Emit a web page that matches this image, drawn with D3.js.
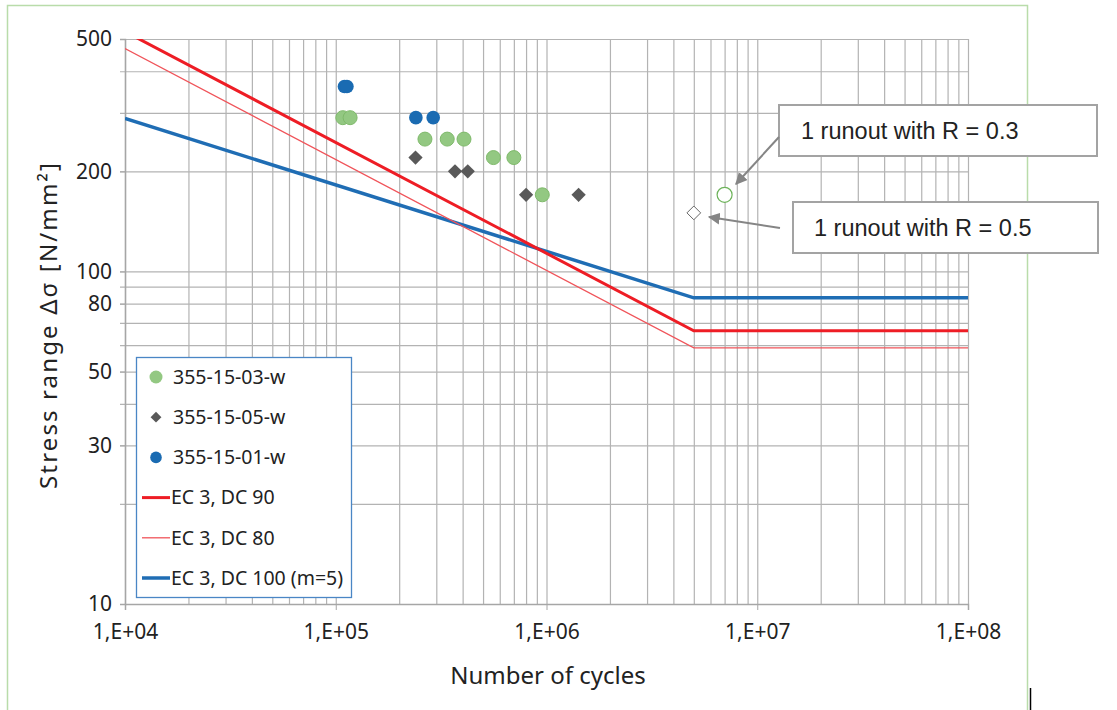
<html lang='en'>
    <head>
        <meta charset='utf-8'>
        <title>S-N curve</title>
        <script src="https://d3js.org/d3.v7.min.js"></script>
        <style>
            body { margin: 0; background: #fff; }
            text { font-family: 'Noto Sans', sans-serif; fill: #222; }
            .note text { font-family: 'Liberation Sans', Arial, sans-serif; }
        </style>
    </head>
    <body>
        <script>

            var width = 1117;
            var height = 710;

            // test results (cycles, stress range)
            var s03N = [1.08e5, 1.17e5, 2.65e5, 3.38e5, 4.06e5, 5.6e5, 7.0e5, 9.55e5];
            var s03S = [290, 290, 250, 250, 250, 220, 220, 170];
            var s05N = [2.39e5, 3.68e5, 4.23e5, 8.0e5, 1.42e6];
            var s05S = [220, 200, 200, 170, 170];
            var s01N = [1.10e5, 1.13e5, 2.4e5, 2.9e5];
            var s01S = [360, 360, 290, 290];

            // runouts
            var runoutCircleN = [7.0e6], runoutCircleS = [170];
            var runoutDiamondN = [5.0e6], runoutDiamondS = [150];

            // detail categories (knee at 5e6 cycles)
            var curveN = [1e4, 5e6, 1e8];
            var dc90S = [526.3, 66.3, 66.3];
            var dc80S = [467.8, 58.9, 58.9];
            var dc100S = [288.5, 83.3, 83.3];

            var xTicks = [1e4, 1e5, 1e6, 1e7, 1e8];
            var xTickLabels = ['1,E+04', '1,E+05', '1,E+06', '1,E+07', '1,E+08'];
            var yTicks = [10, 30, 50, 80, 100, 200, 500];
            var yGrid = [10, 20, 30, 40, 50, 60, 70, 80, 90, 100, 200, 300, 400, 500];
            var legendNames = ['355-15-03-w', '355-15-05-w', '355-15-01-w', 'EC 3, DC 90', 'EC 3, DC 80', 'EC 3, DC 100 (m=5)'];

            var x = d3.scaleLog().domain([1e4, 1e8]).range([125, 968]);
            var y = d3.scaleLog().domain([10, 500]).range([604, 39]);

            // minor x grid: 1..9 per decade
            var xGrid = [];
            [1e4, 1e5, 1e6, 1e7].forEach(function(d) {
                for (var k = 1; k < 10; k++) xGrid.push(d * k);
            });
            xGrid.push(1e8);

            var svg = d3.select('body')
                        .append('svg')
                        .attr('width', width)
                        .attr('height', height);

            // outer frame
            svg.append('rect')
               .attr('x', 7.5).attr('y', 5.5)
               .attr('width', 1020).attr('height', 720)
               .attr('fill', '#fff')
               .attr('stroke', '#b9dcaa').attr('stroke-width', 1.5);
            svg.append('line')
               .attr('x1', 1030.5).attr('x2', 1030.5)
               .attr('y1', 688).attr('y2', 710)
               .attr('stroke', '#000').attr('stroke-width', 1.5);

            // grid
            svg.append('g')
               .attr('transform', 'translate(0,604)')
               .call(d3.axisBottom(x).tickValues(xGrid).tickSize(-565).tickFormat(''))
               .call(function(g) {
                   g.select('.domain').remove();
                   g.selectAll('line').attr('stroke', '#b3b3b3').attr('stroke-width', 1.2);
               });
            svg.append('g')
               .attr('transform', 'translate(968,0)')
               .call(d3.axisLeft(y).tickValues(yGrid).tickSize(848).tickFormat(''))
               .call(function(g) {
                   g.select('.domain').remove();
                   g.selectAll('line').attr('stroke', '#b3b3b3').attr('stroke-width', 1.2);
               });

            // axes
            var xAxis = svg.append('g')
               .attr('transform', 'translate(0,604)')
               .call(d3.axisBottom(x).tickValues(xTicks).tickSize(6).tickPadding(14)
                     .tickFormat(function(d, i) { return xTickLabels[i]; }));
            xAxis.select('.domain').attr('stroke', '#a6a6a6').attr('stroke-width', 1.5);
            xAxis.selectAll('line').attr('stroke', '#a6a6a6');
            xAxis.selectAll('text').style('font-size', '21px').attr('fill', '#222');

            var yAxis = svg.append('g')
               .attr('transform', 'translate(125,0)')
               .call(d3.axisLeft(y).tickValues(yTicks).tickSize(5).tickPadding(8)
                     .tickFormat(d3.format('d')));
            yAxis.select('.domain').attr('stroke', '#a6a6a6').attr('stroke-width', 1.5);
            yAxis.selectAll('line').attr('stroke', '#a6a6a6');
            yAxis.selectAll('text').style('font-size', '21px').attr('fill', '#222');

            svg.append('text')
               .attr('x', 548).attr('y', 684)
               .attr('text-anchor', 'middle')
               .style('font-size', '24px')
               .text('Number of cycles');
            svg.append('text')
               .attr('transform', 'translate(57,326) rotate(-90)')
               .attr('text-anchor', 'middle')
               .attr('textLength', 326)
               .attr('lengthAdjust', 'spacing')
               .style('font-size', '24px')
               .text('Stress range \u0394\u03c3 [N/mm\u00b2]');

            // design curves
            svg.append('clipPath').attr('id', 'plot')
               .append('rect').attr('x', 125).attr('y', 39).attr('width', 843).attr('height', 565);
            var line = d3.line()
                         .x(function(d) { return x(d[0]); })
                         .y(function(d) { return y(d[1]); });
            var curves = [
                {s: dc100S, color: '#1f6db4', w: 3.5},
                {s: dc80S, color: '#f0545a', w: 1.3},
                {s: dc90S, color: '#ee1d25', w: 3}
            ];
            svg.append('g').attr('clip-path', 'url(#plot)')
               .selectAll('path')
               .data(curves)
               .enter()
               .append('path')
               .attr('d', function(c) { return line(d3.zip(curveN, c.s)); })
               .attr('fill', 'none')
               .attr('stroke', function(c) { return c.color; })
               .attr('stroke-width', function(c) { return c.w; });

            var diamond = d3.symbol().type(d3.symbolDiamond2);

            // test points
            svg.append('g').selectAll('circle')
               .data(d3.zip(s03N, s03S))
               .enter().append('circle')
               .attr('cx', function(d) { return x(d[0]); })
               .attr('cy', function(d) { return y(d[1]); })
               .attr('r', 7)
               .attr('fill', '#93c882').attr('stroke', '#7fba6b').attr('stroke-width', 1);
            svg.append('g').selectAll('path')
               .data(d3.zip(s05N, s05S))
               .enter().append('path')
               .attr('d', diamond.size(130))
               .attr('transform', function(d) { return 'translate(' + x(d[0]) + ',' + y(d[1]) + ')'; })
               .attr('fill', '#595959');
            svg.append('g').selectAll('circle')
               .data(d3.zip(s01N, s01S))
               .enter().append('circle')
               .attr('cx', function(d) { return x(d[0]); })
               .attr('cy', function(d) { return y(d[1]); })
               .attr('r', 6.8)
               .attr('fill', '#1a6bb2');

            // runouts
            svg.append('g').selectAll('circle')
               .data(d3.zip(runoutCircleN, runoutCircleS))
               .enter().append('circle')
               .attr('cx', function(d) { return x(d[0]); })
               .attr('cy', function(d) { return y(d[1]); })
               .attr('r', 7.5)
               .attr('fill', '#fff').attr('stroke', '#6db35a').attr('stroke-width', 1.2);
            svg.append('g').selectAll('path')
               .data(d3.zip(runoutDiamondN, runoutDiamondS))
               .enter().append('path')
               .attr('d', diamond.size(120))
               .attr('transform', function(d) { return 'translate(' + x(d[0]) + ',' + y(d[1]) + ')'; })
               .attr('fill', '#fff').attr('stroke', '#666').attr('stroke-width', 1);

            // legend
            var legend = svg.append('g');
            legend.append('rect')
                  .attr('x', 136.5).attr('y', 357.5)
                  .attr('width', 215).attr('height', 240)
                  .attr('fill', '#fff').attr('stroke', '#4a86c5').attr('stroke-width', 1.3);
            var rowY = d3.scalePoint().domain(legendNames).range([377, 578]);
            legendNames.forEach(function(name, i) {
                var yy = rowY(name);
                if (i == 0) legend.append('circle').attr('cx', 156).attr('cy', yy).attr('r', 6.5).attr('fill', '#93c882');
                if (i == 1) legend.append('path').attr('d', diamond.size(75)).attr('transform', 'translate(156,' + yy + ')').attr('fill', '#595959');
                if (i == 2) legend.append('circle').attr('cx', 156).attr('cy', yy).attr('r', 5.8).attr('fill', '#1a6bb2');
                if (i >= 3) {
                    var c = curves[[2, 1, 0][i - 3]];
                    legend.append('line').attr('x1', 142).attr('x2', 170).attr('y1', yy).attr('y2', yy)
                          .attr('stroke', c.color).attr('stroke-width', c.w);
                }
                legend.append('text')
                      .attr('x', i >= 3 ? 171 : 173).attr('y', yy)
                      .attr('dy', '0.35em')
                      .style('font-size', '19.5px')
                      .text(name);
            });

            // annotations
            var notes = [
                {text: '1 runout with R = 0.3', bx: 779, by: 105, bw: 318, tx: 801, from: [779, 137], to: [736, 184]},
                {text: '1 runout with R = 0.5', bx: 793, by: 202, bw: 305, tx: 814, from: [780, 228], to: [709, 217]}
            ];
            var defs = svg.append('defs');
            defs.append('marker').attr('id', 'arrow')
                .attr('viewBox', '0 0 10 10').attr('refX', 9).attr('refY', 5)
                .attr('markerWidth', 6).attr('markerHeight', 6).attr('orient', 'auto')
                .append('path').attr('d', 'M0,0L10,5L0,10z').attr('fill', '#858585');
            var note = svg.append('g').attr('class', 'note')
                          .selectAll('g').data(notes).enter().append('g');
            note.append('rect')
                .attr('x', function(d) { return d.bx; }).attr('y', function(d) { return d.by; })
                .attr('width', function(d) { return d.bw; }).attr('height', 51)
                .attr('fill', '#fff').attr('stroke', '#a3a3a3').attr('stroke-width', 2);
            note.append('text')
                .attr('x', function(d) { return d.tx; })
                .attr('y', function(d) { return d.by + 34; })
                .style('font-size', '23.5px').attr('fill', '#1a1a1a')
                .text(function(d) { return d.text; });
            note.append('line')
                .attr('x1', function(d) { return d.from[0]; }).attr('y1', function(d) { return d.from[1]; })
                .attr('x2', function(d) { return d.to[0]; }).attr('y2', function(d) { return d.to[1]; })
                .attr('stroke', '#858585').attr('stroke-width', 2)
                .attr('marker-end', 'url(#arrow)');

        </script>
    </body>
</html>
